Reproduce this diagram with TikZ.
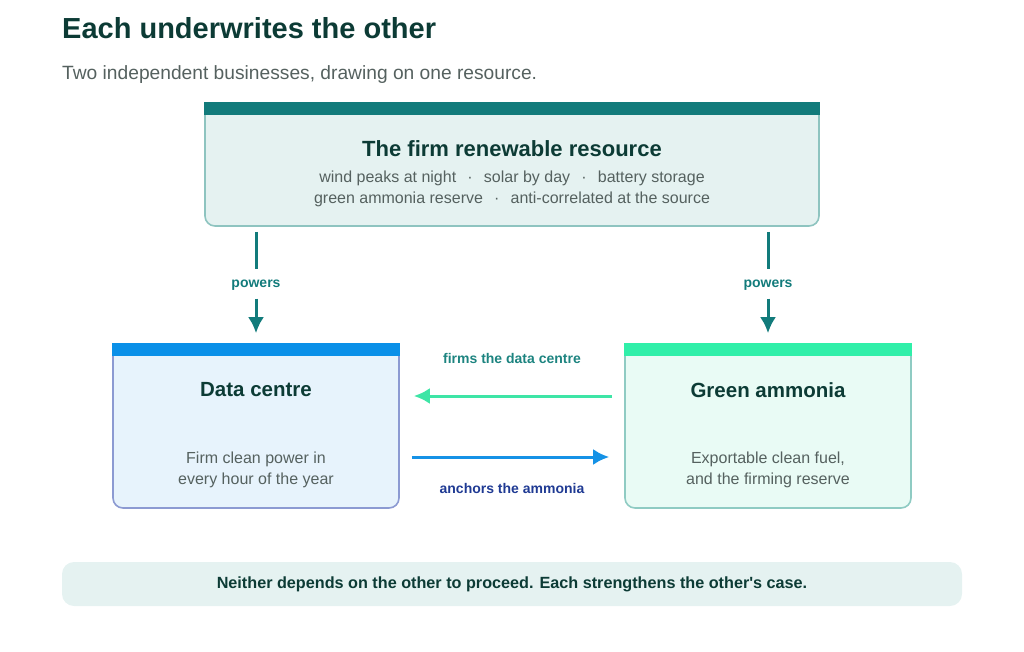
\documentclass[tikz,border=0pt]{standalone}
\usepackage{fontspec}
\setmainfont{Liberation Sans}
\usetikzlibrary{arrows.meta}

\definecolor{ink}{HTML}{0C3B35}
\definecolor{greytext}{HTML}{55615F}
\definecolor{resbar}{HTML}{127B7B}
\definecolor{resfill}{HTML}{E5F2F1}
\definecolor{resline}{HTML}{8EC4C0}
\definecolor{dcbar}{HTML}{0A90E8}
\definecolor{dcfill}{HTML}{E7F3FC}
\definecolor{dcline}{HTML}{8C9AD2}
\definecolor{gabar}{HTML}{30EFA9}
\definecolor{gafill}{HTML}{E9FBF5}
\definecolor{galine}{HTML}{8FCBC3}
\definecolor{firmsarrow}{HTML}{3EE5A6}
\definecolor{firmslabel}{HTML}{1D8480}
\definecolor{anchorsarrow}{HTML}{1592E6}
\definecolor{anchorslabel}{HTML}{1F3A93}

\begin{document}
\begin{tikzpicture}[x=1pt,y=-1pt,>={Latex[length=16pt,width=16pt]},
  card/.style={rounded corners=10pt,line width=1.6pt,inner sep=0pt},
  heading/.style={font=\fontsize{20.5}{24}\selectfont\bfseries,text=ink},
  body/.style={font=\fontsize{16}{21}\selectfont,text=greytext,align=center},
  lbl/.style={font=\fontsize{14}{16}\selectfont\bfseries,text height=10pt,text depth=3pt,inner xsep=0pt,inner ysep=8pt},
  flow/.style={->,line width=3pt}]

\useasboundingbox (0,0) rectangle (1024,652);

\node[anchor=base west,inner sep=0pt,font=\fontsize{29}{33}\selectfont\bfseries,text=ink]
(title)
at (62,39)
{Each underwrites the other};

\node[anchor=base west,inner sep=0pt,font=\fontsize{19.2}{23}\selectfont,text=greytext]
(subtitle)
at (62,80)
{Two independent businesses, drawing on one resource.};

% the shared resource
\node[card,draw=resline,fill=resfill,minimum width=614pt,minimum height=123pt]
(res)
at (512,164.5)
{};
\fill[resbar] (res.north west) rectangle ([yshift=-13pt]res.north east);

\node[heading,font=\fontsize{22}{26}\selectfont\bfseries]
(restitle)
at (512,149)
{The firm renewable resource};

\node[body]
(restext)
at (512,189)
{wind peaks at night\hspace{0.7em}·\hspace{0.7em}solar by day\hspace{0.7em}·\hspace{0.7em}battery storage\\
green ammonia reserve\hspace{0.7em}·\hspace{0.7em}anti-correlated at the source};

% the two businesses
\node[card,draw=dcline,fill=dcfill,minimum width=286pt,minimum height=164pt]
(dc)
at (256,426)
{};
\fill[dcbar] (dc.north west) rectangle ([yshift=-13pt]dc.north east);

\node[heading]
(dctitle)
at (256,390)
{Data centre};

\node[body]
(dctext)
at (256,470)
{Firm clean power in\\every hour of the year};

\node[card,draw=galine,fill=gafill,minimum width=286pt,minimum height=164pt]
(ga)
at (768,426)
{};
\fill[gabar] (ga.north west) rectangle ([yshift=-13pt]ga.north east);

\node[heading]
(gatitle)
at (768,390)
{Green ammonia};

\node[body]
(gatext)
at (768,470)
{Exportable clean fuel,\\and the firming reserve};

% powers arrows
\node[lbl,text=resbar]
(pwleft)
at (256,284)
{powers};

\node[lbl,text=resbar]
(pwright)
at (768,284)
{powers};

\draw[line width=3pt,resbar,shorten <=5pt]
(res.south -| pwleft)--(pwleft);
\draw[flow,resbar,shorten >=10pt]
(pwleft)--(pwleft |- dc.north);

\draw[line width=3pt,resbar,shorten <=5pt]
(res.south -| pwright)--(pwright);
\draw[flow,resbar,shorten >=10pt]
(pwright)--(pwright |- ga.north);

% between the businesses
\node[lbl,text=firmslabel]
(firms)
at (512,360)
{firms the data centre};

\node[lbl,text=anchorslabel]
(anchors)
at (512,490)
{anchors the ammonia};

\coordinate (firmsline) at (512,396);
\coordinate (anchorsline) at (512,457);

\draw[flow,firmsarrow,shorten <=12pt,shorten >=14pt]
(ga.west |- firmsline)--(dc.east |- firmsline);

\draw[flow,anchorsarrow,shorten <=12pt,shorten >=15pt]
(dc.east |- anchorsline)--(ga.west |- anchorsline);

% closing note
\node[fill=resfill,rounded corners=12pt,minimum width=900pt,minimum height=44pt,
  font=\fontsize{16.2}{20}\selectfont\bfseries,text=ink]
(note)
at (512,584)
{Neither depends on the other to proceed. Each strengthens the other\textquotesingle s case.};

\end{tikzpicture}
\end{document}
